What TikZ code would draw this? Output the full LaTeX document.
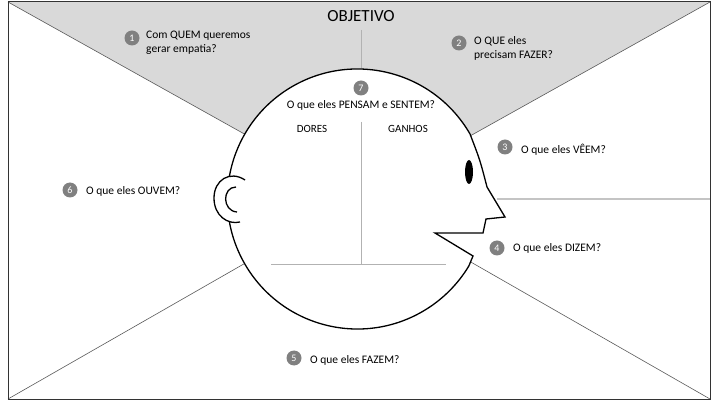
\documentclass[tikz,border=0pt]{standalone}
\usepackage{fontspec}
\setmainfont{Carlito}
\begin{document}
\begin{tikzpicture}[x=1pt,y=-1pt,
  num/.style={circle,fill=black!50,text=white,inner sep=0pt,minimum size=15pt,font=\fontsize{10}{10}\selectfont},
  lbl/.style={font=\fontsize{11.5}{14}\selectfont,align=left,anchor=west,inner sep=0pt},
  frame/.style={draw=black!65,line width=0.6pt},
  thin/.style={draw=black!30,line width=0.8pt}]
\useasboundingbox (0,0) rectangle (715,403);
\coordinate (TL) at (8,2); \coordinate (TR) at (710,2);
\coordinate (BL) at (8,399); \coordinate (BR) at (710,399);
\coordinate (C) at (359,198);
\coordinate (R) at (710,199); \coordinate (F) at (497,199);
\fill[black!15] (TL) -- (TR) -- (C) -- cycle;
\draw[frame] (TL) -- (C) (TR) -- (C) (BL) -- (C) (BR) -- (C) (R) -- (F);
\draw[line width=1pt,black!80] (TL) rectangle (BR);
% head
\draw[line width=1.3pt,fill=white] (470,134) arc[start angle=-30,end angle=-329,radius=130] -- (473,256) -- (435,233) -- (483,233) -- (486,219) -- (505,217) -- (487,187) .. controls (480,160) .. (470,134) -- cycle;
\draw[thin] (361,30) -- (361,68);
\draw[thin] (361,122) -- (361,264) (271,264) -- (446,264);
\fill (469,172) ellipse (4 and 12);
% ear
\draw[line width=1.3pt,fill=white] (245,180) .. controls (230,170) and (214,180) .. (214,198) .. controls (214,216) and (228,225) .. (240,222);
\draw[line width=1.3pt] (236,187) .. controls (222,187) and (222,211) .. (237,212);
% labels
\node[font=\fontsize{17}{17}\selectfont] (obj) at (361,16) {OBJETIVO};
\node[num] (n1) at (132,38) {1};
\node[lbl,anchor=north west] (t1) at (146,31) {Com QUEM queremos\\gerar empatia?};
\node[num] (n2) at (459,43) {2};
\node[lbl,anchor=north west] (t2) at (474,36) {O QUE eles\\precisam FAZER?};
\node[num] (n3) at (505,147) {3};
\node[lbl] (t3) at (521,150) {O que eles VÊEM?};
\node[num] (n4) at (497,248) {4};
\node[lbl] (t4) at (513,248) {O que eles DIZEM?};
\node[num] (n5) at (294,358) {5};
\node[lbl] (t5) at (310,360) {O que eles FAZEM?};
\node[num] (n6) at (70,190) {6};
\node[lbl] (t6) at (86,191) {O que eles OUVEM?};
\node[num] (n7) at (361,88) {7};
\node[font=\fontsize{11.5}{12}\selectfont] (t7) at (361,105) {O que eles PENSAM e SENTEM?};
\node[font=\fontsize{11}{12}\selectfont] (d) at (312,129) {DORES};
\node[font=\fontsize{11}{12}\selectfont] (g) at (408,129) {GANHOS};
\end{tikzpicture}
\end{document}
